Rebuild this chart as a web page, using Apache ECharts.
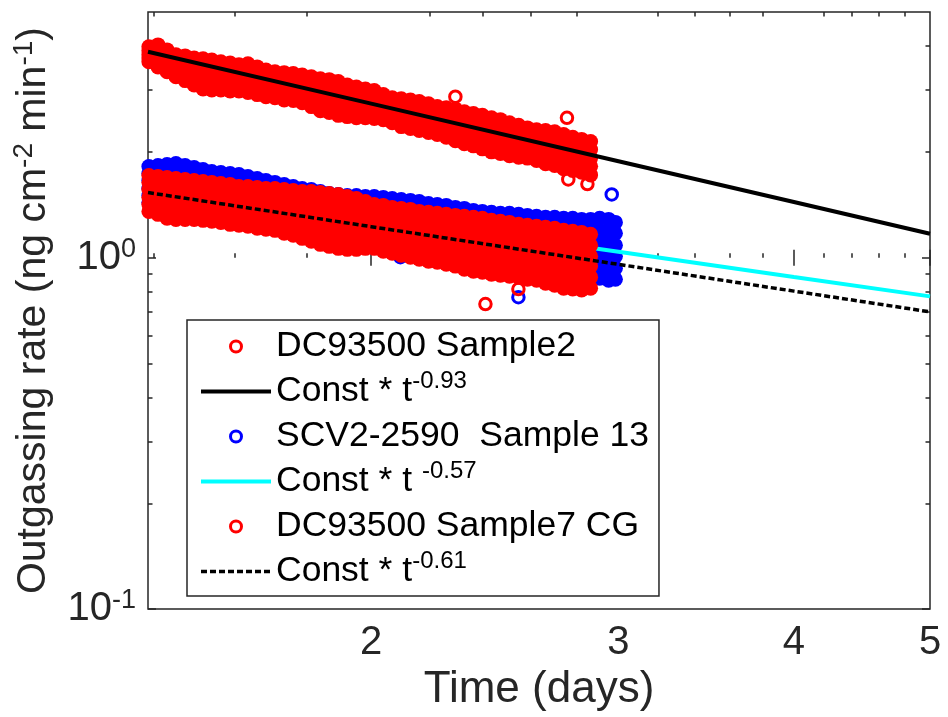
<!DOCTYPE html>
<html><head><meta charset="utf-8">
<script src="https://cdn.jsdelivr.net/npm/echarts@6/dist/echarts.min.js"></script>
<style>html,body{margin:0;padding:0;background:#fff}#c{width:948px;height:717px}</style>
</head><body><div id="c"></div>
<script>
// ---- time columns (days) ----
const tDays = [1.389,1.410,1.431,1.452,1.474,1.496,1.518,1.540,1.563,1.587,1.610,1.634,1.659,1.683,1.708,1.734,1.760,1.786,1.813,1.840,1.867,1.895,1.923,1.952,1.981,2.010,2.040,2.070,2.101,2.133,2.164,2.197,2.229,2.262,2.296,2.330,2.365,2.400,2.436,2.472,2.509,2.547,2.584,2.623,2.662,2.702,2.742,2.783,2.824,2.866,2.909,2.952,2.985];

// ---- DC93500 Sample2 (read as five rows across the band) ----
const red2A = [3.98,4.03,3.90,3.78,3.75,3.70,3.68,3.65,3.61,3.58,3.54,3.56,3.49,3.42,3.38,3.36,3.34,3.31,3.27,3.23,3.21,3.17,3.10,3.06,3.02,2.99,2.91,2.85,2.83,2.81,2.78,2.74,2.69,2.67,2.65,2.60,2.57,2.54,2.50,2.47,2.42,2.38,2.34,2.31,2.30,2.28,2.24,2.20,2.17,2.14];
const red2B = [3.88,3.88,3.75,3.63,3.61,3.54,3.49,3.47,3.45,3.42,3.38,3.40,3.34,3.27,3.23,3.21,3.19,3.17,3.10,3.06,3.04,3.00,2.95,2.91,2.89,2.85,2.80,2.74,2.71,2.69,2.65,2.62,2.57,2.54,2.52,2.47,2.44,2.41,2.38,2.34,2.30,2.25,2.23,2.20,2.18,2.17,2.13,2.08,2.06,2.03];
const red2C = [3.78,3.75,3.63,3.51,3.45,3.38,3.34,3.31,3.29,3.27,3.25,3.25,3.19,3.12,3.10,3.06,3.04,3.02,2.97,2.91,2.87,2.83,2.80,2.76,2.74,2.72,2.67,2.62,2.59,2.55,2.52,2.49,2.45,2.42,2.39,2.34,2.31,2.27,2.24,2.21,2.17,2.14,2.11,2.08,2.06,2.04,2.00,1.97,1.94,1.92];
const red2D = [3.70,3.61,3.49,3.38,3.31,3.25,3.17,3.14,3.14,3.12,3.10,3.08,3.04,3.00,2.97,2.95,2.93,2.89,2.81,2.76,2.72,2.69,2.65,2.64,2.62,2.60,2.57,2.52,2.47,2.44,2.41,2.38,2.34,2.30,2.27,2.23,2.20,2.15,2.13,2.10,2.06,2.03,2.02,1.99,1.95,1.94,1.90,1.87,1.84,1.82];
const red2E = [3.61,3.49,3.38,3.27,3.19,3.10,3.02,3.00,3.00,2.98,2.98,2.95,2.91,2.87,2.85,2.81,2.80,2.76,2.69,2.62,2.59,2.54,2.52,2.50,2.50,2.49,2.47,2.42,2.36,2.33,2.30,2.27,2.24,2.20,2.15,2.11,2.08,2.04,2.00,1.98,1.95,1.93,1.92,1.89,1.85,1.83,1.79,1.77,1.75,1.72];
const red2OutT = [2.296,2.757,2.763,2.851];
const red2OutV = [2.87,2.50,1.67,1.62];

// ---- SCV2-2590 Sample 13 ----
const blueA = [1.816,1.828,1.840,1.852,1.828,1.805,1.781,1.758,1.747,1.735,1.724,1.702,1.680,1.658,1.637,1.615,1.594,1.573,1.563,1.543,1.523,1.513,1.503,1.503,1.493,1.493,1.484,1.474,1.464,1.455,1.445,1.426,1.417,1.408,1.390,1.381,1.363,1.354,1.346,1.337,1.337,1.328,1.319,1.311,1.302,1.302,1.294,1.294,1.285,1.285,1.294,1.285,1.260];
const blueB = [1.735,1.735,1.735,1.735,1.713,1.702,1.680,1.658,1.647,1.637,1.626,1.605,1.584,1.573,1.553,1.533,1.523,1.503,1.493,1.474,1.455,1.445,1.436,1.436,1.417,1.417,1.408,1.399,1.390,1.372,1.363,1.354,1.346,1.328,1.319,1.311,1.294,1.285,1.277,1.269,1.260,1.252,1.244,1.236,1.228,1.220,1.212,1.204,1.196,1.196,1.196,1.188,1.173];
const blueC = [1.658,1.647,1.637,1.626,1.615,1.594,1.584,1.563,1.553,1.543,1.533,1.513,1.503,1.493,1.474,1.455,1.445,1.436,1.426,1.408,1.399,1.381,1.372,1.363,1.354,1.346,1.337,1.319,1.311,1.302,1.294,1.277,1.269,1.260,1.244,1.236,1.228,1.220,1.204,1.196,1.188,1.180,1.173,1.158,1.150,1.143,1.135,1.128,1.113,1.113,1.106,1.099,1.084];
const blueD = [1.573,1.563,1.543,1.533,1.513,1.503,1.493,1.484,1.464,1.455,1.436,1.436,1.417,1.408,1.399,1.390,1.381,1.363,1.354,1.346,1.337,1.328,1.311,1.302,1.285,1.277,1.260,1.252,1.244,1.228,1.220,1.212,1.204,1.188,1.180,1.173,1.158,1.150,1.143,1.135,1.121,1.113,1.099,1.091,1.084,1.070,1.063,1.049,1.043,1.029,1.022,1.009,1.009];
const blueE = [1.503,1.484,1.455,1.436,1.426,1.408,1.408,1.399,1.381,1.372,1.354,1.354,1.346,1.337,1.328,1.319,1.311,1.302,1.294,1.285,1.285,1.269,1.252,1.236,1.228,1.212,1.196,1.180,1.173,1.165,1.158,1.143,1.135,1.128,1.113,1.106,1.099,1.091,1.077,1.070,1.056,1.049,1.036,1.022,1.016,1.003,0.996,0.984,0.971,0.958,0.946,0.933,0.933];
const blueF = [1.436,1.408,1.372,1.346,1.337,1.328,1.328,1.319,1.302,1.294,1.277,1.277,1.269,1.269,1.260,1.252,1.252,1.244,1.236,1.228,1.228,1.212,1.196,1.180,1.165,1.150,1.135,1.121,1.113,1.099,1.091,1.084,1.077,1.063,1.056,1.049,1.043,1.036,1.022,1.016,0.996,0.990,0.977,0.964,0.958,0.939,0.933,0.915,0.903,0.891,0.874,0.863,0.868];
const blueOutT = [2.967,2.546,2.098];
const blueOutV = [1.513,0.772,1.003];

// ---- DC93500 Sample7 CG ----
const red7A = [1.713,1.702,1.691,1.680,1.669,1.658,1.647,1.637,1.626,1.615,1.594,1.594,1.584,1.573,1.573,1.563,1.553,1.543,1.543,1.533,1.523,1.513,1.493,1.474,1.445,1.417,1.408,1.390,1.381,1.372,1.354,1.346,1.337,1.328,1.319,1.311,1.302,1.294,1.277,1.269,1.260,1.244,1.236,1.228,1.220,1.212,1.196,1.188,1.180,1.165];
const red7B = [1.637,1.615,1.605,1.594,1.584,1.573,1.563,1.553,1.543,1.533,1.513,1.513,1.503,1.493,1.493,1.474,1.464,1.455,1.445,1.436,1.417,1.408,1.390,1.381,1.363,1.337,1.328,1.311,1.302,1.285,1.269,1.260,1.252,1.244,1.236,1.220,1.212,1.204,1.188,1.180,1.173,1.158,1.150,1.143,1.135,1.128,1.106,1.099,1.091,1.084];
const red7C = [1.563,1.543,1.523,1.513,1.503,1.493,1.484,1.474,1.464,1.455,1.436,1.436,1.426,1.417,1.408,1.390,1.381,1.363,1.354,1.337,1.328,1.311,1.302,1.294,1.277,1.260,1.252,1.236,1.220,1.212,1.196,1.180,1.173,1.165,1.158,1.143,1.128,1.121,1.106,1.099,1.091,1.084,1.070,1.063,1.056,1.043,1.029,1.022,1.016,1.009];
const red7D = [1.484,1.464,1.436,1.426,1.426,1.426,1.417,1.408,1.399,1.381,1.372,1.363,1.346,1.337,1.337,1.319,1.302,1.285,1.269,1.252,1.236,1.228,1.212,1.204,1.204,1.196,1.173,1.158,1.150,1.135,1.121,1.113,1.106,1.091,1.077,1.063,1.056,1.049,1.036,1.029,1.022,1.009,1.003,0.996,0.977,0.971,0.952,0.946,0.939,0.946];
const red7E = [1.417,1.399,1.363,1.354,1.354,1.354,1.346,1.337,1.328,1.311,1.302,1.294,1.277,1.269,1.260,1.244,1.228,1.204,1.188,1.165,1.158,1.143,1.135,1.128,1.128,1.128,1.106,1.091,1.077,1.070,1.056,1.043,1.036,1.022,1.009,0.996,0.984,0.977,0.964,0.958,0.952,0.946,0.933,0.927,0.909,0.897,0.886,0.880,0.874,0.880];
const red7F = [1.354,1.328,1.294,1.285,1.285,1.285,1.277,1.269,1.260,1.244,1.236,1.228,1.212,1.204,1.196,1.173,1.158,1.135,1.113,1.091,1.077,1.063,1.056,1.056,1.063,1.063,1.043,1.029,1.016,1.003,0.990,0.977,0.971,0.958,0.946,0.927,0.915,0.909,0.897,0.891,0.886,0.880,0.868,0.863,0.846,0.835,0.819,0.814,0.809,0.819];
const red7OutT = [2.412,2.546];
const red7OutV = [0.738,0.814];

// ---- power-law fits ----
const fitT = [1.387,2,3,4,5];
const fitA = [3.854,2.743,1.881,1.440,1.169];  // t^-0.93
const fitB = [1.613,1.309,1.039,0.881,0.776];  // t^-0.57
const fitC = [1.532,1.225,0.957,0.803,0.701];  // t^-0.61

// ---- axes ----
const xMin = 1.387, xMax = 5, yMin = 0.1, yMax = 5;
const xMajor = [2,3,4,5];
const xMinor = [1.4,1.6,1.8,2.2,2.4,2.6,2.8,3.2,3.4,3.6,3.8,4.2,4.4,4.6,4.8];
const yMajor = [0.1,1];
const yMinor = [0.2,0.3,0.4,0.5,0.6,0.7,0.8,0.9,2,3,4];

const legendNames = ['DC93500 Sample2','Const * t^-0.93','SCV2-2590  Sample 13','Const * t ^-0.57','DC93500 Sample7 CG','Const * t^-0.61'];

const FONT = '"Liberation Sans", Arial, Helvetica, sans-serif';
const AX = '#262626';

function band(tracks, outT, outV, color) {
  const d = [];
  tracks.forEach(tr => tr.forEach((v, i) => d.push([tDays[i], v])));
  outT.forEach((t, i) => d.push({value: [t, outV[i]], symbolSize: 11.5,
    itemStyle: {color: 'rgba(255,255,255,0)', borderColor: color, borderWidth: 3, opacity: 1}}));
  return d;
}
function pairs(xs, ys) { return xs.map((x, i) => [x, ys[i]]); }
const lg = v => Math.log10(v);

function tickAxis(kind, pos, vals, len, label) {
  const isX = kind === 'x';
  const a = {
    type: 'value', position: pos, gridIndex: 0,
    min: isX ? lg(xMin) : lg(yMin), max: isX ? lg(xMax) : lg(yMax),
    axisLine: {show: false}, splitLine: {show: false},
    axisTick: {show: true, inside: true, length: len, customValues: vals.map(lg),
      lineStyle: {color: AX, width: 1.5}},
    axisLabel: {show: false}
  };
  if (label) {
    a.axisLabel = isX ? {
      show: true, customValues: vals.map(lg), margin: 14,
      fontFamily: FONT, fontSize: 40, color: AX,
      formatter: v => String(Math.round(Math.pow(10, v)))
    } : {
      show: true, customValues: vals.map(lg), margin: 12,
      fontFamily: FONT, color: AX,
      formatter: v => '{b|10}{s|' + Math.round(v) + '}',
      rich: {b: {fontSize: 40, lineHeight: 44, fontFamily: FONT, color: AX},
             s: {fontSize: 27, lineHeight: 27, verticalAlign: 'top', fontFamily: FONT, color: AX}}
    };
  }
  return a;
}

const xAxes = [
  {type: 'log', logBase: 10, min: xMin, max: xMax, show: false},
  Object.assign(tickAxis('x', 'bottom', xMajor, 8, true), {
    name: 'Time (days)', nameLocation: 'middle', nameGap: 58,
    nameTextStyle: {fontFamily: FONT, fontSize: 44, color: AX}}),
  tickAxis('x', 'bottom', xMinor, 4.5, false),
  tickAxis('x', 'top', xMajor, 8, false),
  tickAxis('x', 'top', xMinor, 4.5, false)
];
const yAxes = [
  {type: 'log', logBase: 10, min: yMin, max: yMax, show: false},
  Object.assign(tickAxis('y', 'left', yMajor, 8, true), {
    name: 'Outgassing rate (ng cm{s|-2} min{s|-1})', nameLocation: 'middle', nameGap: 88, nameRotate: 90,
    nameTextStyle: {fontFamily: FONT, fontSize: 41, lineHeight: 46, color: AX,
      rich: {s: {fontFamily: FONT, fontSize: 28, lineHeight: 28, verticalAlign: 'top', color: AX}}}}),
  tickAxis('y', 'left', yMinor, 4.5, false),
  tickAxis('y', 'right', yMajor, 8, false),
  tickAxis('y', 'right', yMinor, 4.5, false)
];

const scatterBase = {type: 'scatter', xAxisIndex: 0, yAxisIndex: 0, symbol: 'circle', symbolSize: 15,
  silent: true, emphasis: {disabled: true}, animation: false};
const lineBase = {type: 'line', xAxisIndex: 0, yAxisIndex: 0, symbol: 'none', showSymbol: false, silent: true,
  emphasis: {disabled: true}, animation: false};

const series = [
  Object.assign({}, scatterBase, {name: legendNames[0], z: 2,
    itemStyle: {color: '#ff0000', borderWidth: 0, opacity: 1},
    data: band([red2A, red2B, red2C, red2D, red2E], red2OutT, red2OutV, '#ff0000')}),
  Object.assign({}, lineBase, {name: legendNames[1], z: 3, itemStyle: {color: '#000000'},
    lineStyle: {color: '#000000', width: 4}, data: pairs(fitT, fitA)}),
  Object.assign({}, scatterBase, {name: legendNames[2], z: 4,
    itemStyle: {color: '#0000ff', borderWidth: 0, opacity: 1},
    data: band([blueA, blueB, blueC, blueD, blueE, blueF], blueOutT, blueOutV, '#0000ff')}),
  Object.assign({}, lineBase, {name: legendNames[3], z: 5, itemStyle: {color: '#00ffff'},
    lineStyle: {color: '#00ffff', width: 4}, data: pairs(fitT, fitB)}),
  Object.assign({}, scatterBase, {name: legendNames[4], z: 6,
    itemStyle: {color: '#ff0000', borderWidth: 0, opacity: 1},
    data: band([red7A, red7B, red7C, red7D, red7E, red7F], red7OutT, red7OutV, '#ff0000')}),
  Object.assign({}, lineBase, {name: legendNames[5], z: 7, itemStyle: {color: '#000000'},
    lineStyle: {color: '#000000', width: 3.5, type: [6, 3]}, data: pairs(fitT, fitC)})
];

const ringIcon = c => ({icon: 'circle', itemStyle: {color: 'rgba(255,255,255,0)', borderColor: c, borderWidth: 3, opacity: 1}});
const noDot = {color: 'rgba(0,0,0,0)', borderColor: 'rgba(0,0,0,0)', borderWidth: 0, opacity: 0};
const legendData = [
  Object.assign({name: legendNames[0]}, ringIcon('#ff0000')),
  {name: legendNames[1], itemStyle: noDot, lineStyle: {width: 4, color: '#000', opacity: 1}},
  Object.assign({name: legendNames[2]}, ringIcon('#0000ff')),
  {name: legendNames[3], itemStyle: noDot, lineStyle: {width: 4, color: '#00ffff', opacity: 1}},
  Object.assign({name: legendNames[4]}, ringIcon('#ff0000')),
  {name: legendNames[5], itemStyle: noDot, lineStyle: {width: 3.5, color: '#000', type: [6, 3], opacity: 1}}
];

const chart = echarts.init(document.getElementById('c'), null, {renderer: 'canvas'});
chart.setOption({
  animation: false,
  backgroundColor: '#ffffff',
  textStyle: {fontFamily: FONT},
  grid: {left: 148, right: 18, top: 12, bottom: 106, show: true, borderColor: AX, borderWidth: 1.5,
    backgroundColor: 'rgba(0,0,0,0)', containLabel: false},
  xAxis: xAxes,
  yAxis: yAxes,
  legend: {
    show: true, orient: 'vertical', left: 187, top: 320, z: 20,
    backgroundColor: '#ffffff', borderColor: AX, borderWidth: 1.5, borderRadius: 0,
    padding: [4, 10, 2, 12], itemGap: 0, itemWidth: 70, itemHeight: 11,
    selectedMode: false, data: legendData,
    textStyle: {fontFamily: FONT, fontSize: 35.5, lineHeight: 45, color: '#000',
      rich: {m: {fontFamily: FONT, fontSize: 35.5, lineHeight: 45, color: '#000'},
             s: {fontFamily: FONT, fontSize: 24, lineHeight: 24, verticalAlign: 'top', color: '#000'}}},
    formatter: name => {
      const k = name.indexOf('^');
      return k < 0 ? name : '{m|' + name.slice(0, k) + '}{s|' + name.slice(k + 1) + '}';
    }
  },
  series: series
});
</script>
</body></html>
